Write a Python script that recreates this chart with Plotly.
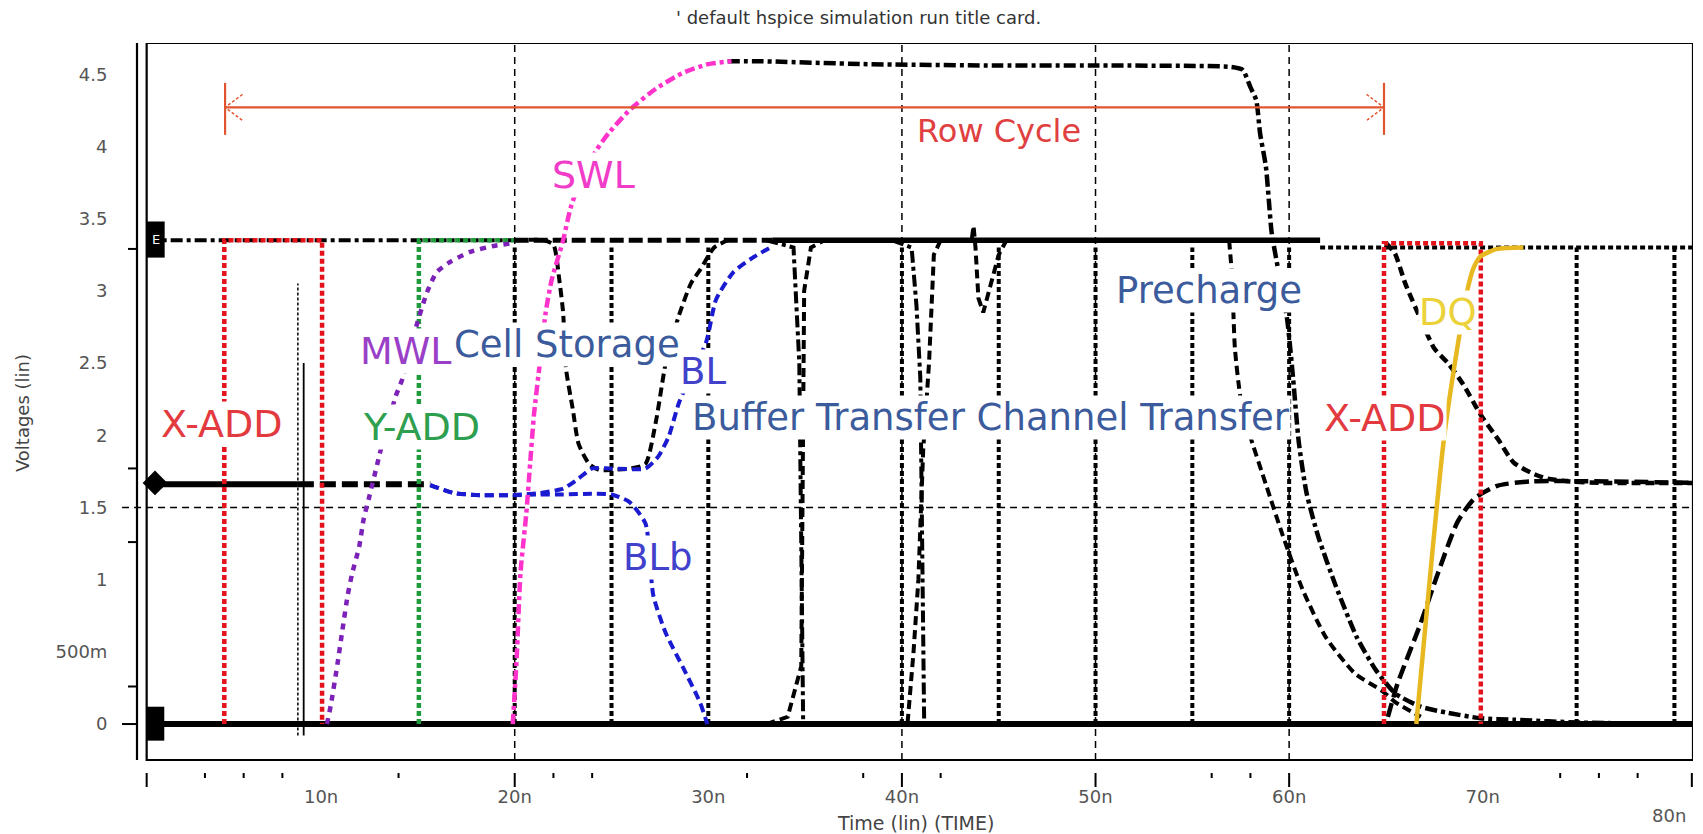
import plotly.graph_objects as go

# ---------------- axis data ----------------
Y_TICK_VALS = [0, 0.5, 1, 1.5, 2, 2.5, 3, 3.5, 4, 4.5]
Y_TICK_TEXT = ["0", "500m", "1", "1.5", "2", "2.5", "3", "3.5", "4", "4.5"]
X_TICK_VALS = [10, 20, 30, 40, 50, 60, 70]
X_TICK_TEXT = ["10n", "20n", "30n", "40n", "50n", "60n", "70n"]
X_LAST_LABEL = ("80n", 79.6)
X_MAJOR_TICKS = [0.99, 20, 40, 50, 60, 80.8]
X_MINOR_TICKS = [4, 6, 8, 14, 22, 24, 32, 38, 42, 56, 58, 74, 76, 78]
Y_MINOR_TICKS = [0.26, 1.26, 1.77, 3.29]
X_GRID = [20, 40, 50, 60]
Y_GRID = [1.5]
X_RANGE = [0.491, 80.86]
Y_RANGE = [-0.339, 4.716]
BOX_T0 = 0.99
BOX_V0 = -0.249

# ---------------- signal data (time in ns, voltage in V) ----------------
T_START, T_END = 0.99, 80.86
VDD = 3.35
VHALF = 1.66

XADD_T = [5.0, 5.0, 10.05, 10.05, None, 64.9, 64.9, 69.9, 69.9]
XADD_V = [0, 3.35, 3.35, 0, None, 0, 3.33, 3.33, 0]

YADD_T = [15.05, 15.05, 19.95]
YADD_V = [0, 3.35, 3.35]

MWL_T = [10.3, 10.5, 10.85, 11.1, 11.37, 11.6, 11.97, 12.2, 12.5, 12.9, 13.25,
         13.6, 13.85, 14.2, 14.8, 15.47, 15.98, 16.67, 17.7, 18.9, 19.9]
MWL_V = [0.0, 0.13, 0.42, 0.65, 0.89, 1.04, 1.23, 1.42, 1.58, 1.8, 1.99,
         2.15, 2.27, 2.39, 2.7, 2.99, 3.13, 3.2, 3.27, 3.31, 3.33]

SWL_T = [19.9, 20.1, 20.3, 20.6, 20.8, 21.0, 21.3, 21.6, 21.9, 22.5, 22.9,
         23.5, 24.2, 24.9, 26.0, 27.3, 28.7, 30.0, 31.2]
SWL_V = [0.0, 0.45, 1.05, 1.46, 1.81, 2.15, 2.5, 2.85, 3.07, 3.35, 3.58,
         3.8, 3.97, 4.1, 4.26, 4.4, 4.51, 4.57, 4.59]

WL_T = [31.0, 32.6, 38.0, 45.0, 50.0, 57.0, 57.6, 58.0, 58.3, 58.5, 58.8, 58.95,
        59.1, 59.5, 59.9, 60.2, 60.5, 60.9, 61.5, 62.4, 63.5, 64.5, 65.5,
        66.8, 68.1, 69.9, 71.6, 75.0, 80.86]
WL_V = [4.59, 4.59, 4.57, 4.56, 4.56, 4.55, 4.53, 4.41, 4.32, 4.09, 3.86, 3.63,
        3.4, 3.1, 2.8, 2.4, 1.95, 1.6, 1.3, 0.96, 0.6, 0.37, 0.21,
        0.12, 0.08, 0.04, 0.03, 0.01, 0.0]

BL_T = [15.64, 16.84, 18.2, 19.9, 21.3, 22.5, 23.3, 24.0, 25.0, 26.75, 27.4,
        27.95, 28.5, 29.9, 30.4, 31.3, 32.3, 33.2]
BL_V = [1.655, 1.6, 1.585, 1.585, 1.6, 1.63, 1.70, 1.77, 1.77, 1.77, 1.85,
        1.99, 2.23, 2.65, 2.94, 3.13, 3.23, 3.3]

BLB_T = [15.64, 16.84, 18.2, 19.9, 21.3, 22.5, 24.0, 25.0, 25.9, 26.75, 27.16,
         27.8, 28.7, 29.57, 29.95]
BLB_V = [1.655, 1.6, 1.585, 1.585, 1.59, 1.59, 1.595, 1.59, 1.54, 1.39, 0.89,
         0.63, 0.39, 0.15, 0.0]

CELL_T = [20.0, 21.5, 22.0, 22.3, 22.5, 22.65, 23.0, 23.3, 23.85, 24.36, 25.0,
          26.0, 26.75, 27.3, 27.8, 28.46, 29.1, 29.6, 30.3, 31.0]
CELL_V = [3.35, 3.35, 3.32, 3.08, 2.85, 2.46, 2.18, 1.94, 1.80, 1.76, 1.76,
          1.77, 1.8, 2.1, 2.5, 2.82, 3.05, 3.15, 3.3, 3.35]

PULSE_T = [20, 25, 30, 40, 45, 50, 55, 60, 74.85, 79.9]
PULSE_HIGH = 3.3

DIP35A_T = [33.0, 34.4, 34.7, 34.85, 34.9, 36.0]
DIP35A_V = [3.35, 3.3, 2.5, 1.0, 0.0, 0.0]
DIP35B_T = [33.0, 34.1, 34.8, 34.95, 35.3, 36.0]
DIP35B_V = [0.0, 0.05, 0.4, 3.0, 3.3, 3.35]

DIP41A_T = [39.5, 40.5, 40.75, 40.95, 41.05, 41.15, 42.0]
DIP41A_V = [3.35, 3.3, 2.9, 2.4, 1.2, 0.0, 0.0]
DIP41B_T = [39.5, 40.3, 40.6, 40.85, 41.1, 41.4, 41.65, 42.0]
DIP41B_V = [0.0, 0.02, 0.5, 1.0, 1.9, 2.5, 3.25, 3.35]

BLIP44_T = [43.0, 43.6, 43.7, 43.8, 43.95, 44.2, 44.6, 45.0, 45.4]
BLIP44_V = [3.35, 3.35, 3.45, 3.3, 2.95, 2.85, 3.05, 3.25, 3.35]

PRE_FALL_T = [56.9, 57.05, 57.2, 57.5, 57.95, 58.8, 59.66, 60.7, 61.9, 63.4, 64.8, 65.5, 66.8]
PRE_FALL_V = [3.35, 3.1, 2.6, 2.25, 2.01, 1.66, 1.31, 0.93, 0.6, 0.35, 0.23, 0.15, 0.05]

BL_PRE_T = [65.0, 65.46, 66.0, 66.8, 67.5, 68.2, 69.0, 69.9, 70.8, 71.6, 72.5, 73.3, 74.5, 76.0, 78.0, 80.86]
BL_PRE_V = [3.33, 3.26, 3.05, 2.8, 2.6, 2.5, 2.35, 2.14, 1.97, 1.81, 1.74, 1.70, 1.68, 1.67, 1.67, 1.67]

BLB_PRE_T = [65.1, 65.6, 66.8, 67.7, 68.7, 69.56, 70.75, 72.5, 80.86]
BLB_PRE_V = [0.05, 0.28, 0.70, 1.05, 1.40, 1.56, 1.65, 1.68, 1.67]

DQ_T = [66.57, 68.0, 68.9, 69.2, 69.5, 69.9, 70.75, 72.1]
DQ_V = [0.0, 1.98, 2.78, 3.0, 3.15, 3.24, 3.29, 3.30]

THIN_DOT_T, THIN_DOT_V = [8.8, 8.8], [-0.08, 3.05]
THIN_SOLID_T, THIN_SOLID_V = [9.1, 9.1], [-0.08, 2.5]

ROW_CYCLE_T0, ROW_CYCLE_T1, ROW_CYCLE_V = 5.04, 64.9, 4.27

LABELS = [
    ("X-ADD", 4.9, 2.08, "#e23a3f", 38),
    ("Y-ADD", 15.16, 2.06, "#2e9e4f", 38),
    ("MWL", 14.36, 2.58, "#9a3fc7", 38),
    ("Cell Storage", 22.7, 2.63, "#3b5b9c", 37),
    ("SWL", 24.05, 3.80, "#f03cc8", 38),
    ("BL", 29.7, 2.44, "#4141cc", 37),
    ("BLb", 27.35, 1.15, "#4141cc", 37),
    ("Buffer Transfer Channel Transfer", 44.6, 2.12, "#3b5b9c", 37),
    ("Precharge", 55.85, 3.0, "#3b5b9c", 37),
    ("X-ADD", 64.95, 2.12, "#e23a3f", 38),
    ("DQ", 68.2, 2.85, "#ecd23a", 37),
    ("Row Cycle", 45.0, 4.11, "#e04040", 32),
]

# ---------------- colours ----------------
RED = "#e3121b"
GREEN = "#1f9a3c"
PURPLE = "#7d22b8"
PINK = "#ff33cc"
BLUE = "#1a1ad0"
YELLOW = "#e8b820"
BLACK = "#000000"
ARROW = "#e05530"

fig = go.Figure()


def add_line(x, y, color, width, dash="solid", smooth=False):
    line = dict(color=color, width=width, dash=dash)
    if smooth:
        line.update(shape="spline", smoothing=0.6)
    fig.add_trace(go.Scatter(x=x, y=y, mode="lines", line=line,
                             hoverinfo="skip", showlegend=False))


DASHDOT = "12px,4px,4px,4px"
DASH = "9px,5px"
DOT = "5px,3px"

# black level lines
add_line([T_START, T_END], [0, 0], BLACK, 6)
add_line([T_START, 20.0], [VDD, VDD], BLACK, 4, DASHDOT)
add_line([20.0, 33.3], [VDD, VDD], BLACK, 5, "14px,5px")
add_line([33.3, 61.6], [VDD, VDD], BLACK, 5.5)
add_line([61.6, T_END], [3.3, 3.3], BLACK, 4, DOT)
add_line([T_START, 8.8], [VHALF, VHALF], BLACK, 6)
add_line([8.8, 15.64], [VHALF, VHALF], BLACK, 6, "16px,6px")

# black dotted pulses
px, py = [], []
for t in PULSE_T:
    px += [t, t, None]
    py += [0, PULSE_HIGH, None]
add_line(px, py, BLACK, 4, DOT)

add_line(THIN_DOT_T, THIN_DOT_V, BLACK, 1.5, "3px,2px")
add_line(THIN_SOLID_T, THIN_SOLID_V, BLACK, 1.8)

add_line(DIP35A_T, DIP35A_V, BLACK, 4, DASHDOT)
add_line(DIP35B_T, DIP35B_V, BLACK, 4, DASH)
add_line(DIP41A_T, DIP41A_V, BLACK, 4, DASHDOT)
add_line(DIP41B_T, DIP41B_V, BLACK, 4, DASH)
add_line(BLIP44_T, BLIP44_V, BLACK, 4, DASH)
add_line(CELL_T, CELL_V, BLACK, 4, DASH, smooth=True)
add_line(WL_T, WL_V, BLACK, 4.5, DASHDOT, smooth=True)
add_line(PRE_FALL_T, PRE_FALL_V, BLACK, 4, DASH, smooth=True)
add_line(BL_PRE_T, BL_PRE_V, BLACK, 4.5, DASH, smooth=True)
add_line(BLB_PRE_T, BLB_PRE_V, BLACK, 4.5, "14px,6px", smooth=True)

# coloured signals
add_line(YADD_T, YADD_V, GREEN, 4.5, DOT)
add_line(XADD_T, XADD_V, RED, 4.5, DOT)
add_line(MWL_T, MWL_V, PURPLE, 4.5, "6px,6px", smooth=True)
add_line(BLB_T, BLB_V, BLUE, 4, DASH, smooth=True)
add_line(BL_T, BL_V, BLUE, 4, DASH, smooth=True)
add_line(SWL_T, SWL_V, PINK, 4.5, "10px,4px,4px,4px", smooth=True)
add_line(DQ_T, DQ_V, YELLOW, 4.5, smooth=True)

# Row cycle arrow
add_line([ROW_CYCLE_T0, ROW_CYCLE_T1], [ROW_CYCLE_V, ROW_CYCLE_V], ARROW, 2.2)
add_line([ROW_CYCLE_T0, ROW_CYCLE_T0, None, ROW_CYCLE_T1, ROW_CYCLE_T1],
         [ROW_CYCLE_V - 0.19, ROW_CYCLE_V + 0.17, None, ROW_CYCLE_V - 0.19, ROW_CYCLE_V + 0.17],
         ARROW, 2.2)
add_line([ROW_CYCLE_T0 + 0.9, ROW_CYCLE_T0, ROW_CYCLE_T0 + 0.9, None,
          ROW_CYCLE_T1 - 0.9, ROW_CYCLE_T1, ROW_CYCLE_T1 - 0.9],
         [ROW_CYCLE_V + 0.09, ROW_CYCLE_V, ROW_CYCLE_V - 0.09, None,
          ROW_CYCLE_V + 0.09, ROW_CYCLE_V, ROW_CYCLE_V - 0.09],
         ARROW, 1.4, "3px,2px")

# trace start markers on the left edge
fig.add_trace(go.Scatter(x=[1.42], y=[VHALF + 0.01], mode="markers",
                         marker=dict(symbol="diamond", size=19, color=BLACK),
                         hoverinfo="skip", showlegend=False))

shapes = []
# box and offset spine
shapes.append(dict(type="rect", xref="x", yref="y", x0=BOX_T0, x1=X_RANGE[1],
                   y0=BOX_V0, y1=Y_RANGE[1], line=dict(color=BLACK, width=2.2)))
shapes.append(dict(type="line", xref="paper", yref="y", x0=0, x1=0,
                   y0=BOX_V0, y1=Y_RANGE[1], line=dict(color=BLACK, width=2.2)))
# grid
for t in X_GRID:
    shapes.append(dict(type="line", xref="x", yref="y", x0=t, x1=t, y0=BOX_V0,
                       y1=Y_RANGE[1], line=dict(color=BLACK, width=1.5, dash="7px,5px"),
                       layer="below"))
for v in Y_GRID:
    shapes.append(dict(type="line", xref="paper", yref="y", x0=-0.0096, x1=1, y0=v,
                       y1=v, line=dict(color=BLACK, width=1.5, dash="7px,5px"),
                       layer="below"))
# x ticks (floating below the box)
for t in X_MAJOR_TICKS:
    shapes.append(dict(type="line", xref="x", yref="paper", x0=t, x1=t, y0=0,
                       y1=-14 / 730, line=dict(color=BLACK, width=2)))
for t in X_MINOR_TICKS:
    shapes.append(dict(type="line", xref="x", yref="paper", x0=t, x1=t, y0=0,
                       y1=-5 / 730, line=dict(color=BLACK, width=2)))
# y ticks
shapes.append(dict(type="line", xref="paper", yref="y", x0=-15 / 1556, x1=0, y0=0,
                   y1=0, line=dict(color=BLACK, width=2)))
for v in Y_MINOR_TICKS:
    shapes.append(dict(type="line", xref="paper", yref="y", x0=-9 / 1556, x1=0, y0=v,
                       y1=v, line=dict(color=BLACK, width=2)))
# left edge trace markers
shapes.append(dict(type="rect", xref="x", yref="y", x0=BOX_T0, x1=1.92, y0=3.23,
                   y1=3.48, fillcolor=BLACK, line=dict(width=0)))
shapes.append(dict(type="rect", xref="x", yref="y", x0=BOX_T0, x1=1.90, y0=-0.115,
                   y1=0.12, fillcolor=BLACK, line=dict(width=0)))

annotations = []
for text, x, y, color, size in LABELS:
    annotations.append(dict(text=text, x=x, y=y, xref="x", yref="y", showarrow=False,
                            xanchor="center", yanchor="middle",
                            font=dict(family="DejaVu Sans", size=size, color=color),
                            bgcolor="white", borderpad=0))
annotations.append(dict(text="E", x=1.45, y=3.355, xref="x", yref="y", showarrow=False,
                        xanchor="center", yanchor="middle",
                        font=dict(family="DejaVu Sans", size=13, color="white")))
annotations.append(dict(text=X_LAST_LABEL[0], x=X_LAST_LABEL[1], y=-42 / 730, xref="x",
                        yref="paper", showarrow=False, xanchor="center", yanchor="middle",
                        font=dict(family="DejaVu Sans", size=18, color="#555")))
annotations.append(dict(text="' default hspice simulation run title card.", x=0.4635,
                        y=1 + 26 / 730, xref="paper", yref="paper", showarrow=False,
                        xanchor="center", yanchor="middle",
                        font=dict(family="DejaVu Sans", size=18, color="#333")))
annotations.append(dict(text="Voltages (lin)", x=-115 / 1556, y=0.493, xref="paper",
                        yref="paper", showarrow=False, textangle=-90,
                        xanchor="center", yanchor="middle",
                        font=dict(family="DejaVu Sans", size=18, color="#444")))
annotations.append(dict(text="Time (lin) (TIME)", x=0.5, y=-50 / 730, xref="paper",
                        yref="paper", showarrow=False, xanchor="center", yanchor="middle",
                        font=dict(family="DejaVu Sans", size=19, color="#444")))

fig.update_layout(
    width=1703, height=834,
    margin=dict(l=137, r=10, t=43, b=61, pad=0),
    paper_bgcolor="white", plot_bgcolor="white",
    showlegend=False,
    xaxis=dict(range=X_RANGE, showgrid=False, zeroline=False, showline=False,
               tickmode="array", tickvals=X_TICK_VALS, ticktext=X_TICK_TEXT,
               ticks="outside", ticklen=7, tickcolor="rgba(0,0,0,0)",
               tickfont=dict(family="DejaVu Sans", size=18, color="#555")),
    yaxis=dict(range=Y_RANGE, showgrid=False, zeroline=False, showline=False,
               tickmode="array", tickvals=Y_TICK_VALS, ticktext=Y_TICK_TEXT,
               ticks="outside", ticklen=25, tickcolor="rgba(0,0,0,0)",
               tickfont=dict(family="DejaVu Sans", size=18, color="#555")),
    shapes=shapes,
    annotations=annotations,
)

fig.write_html("out.html")
